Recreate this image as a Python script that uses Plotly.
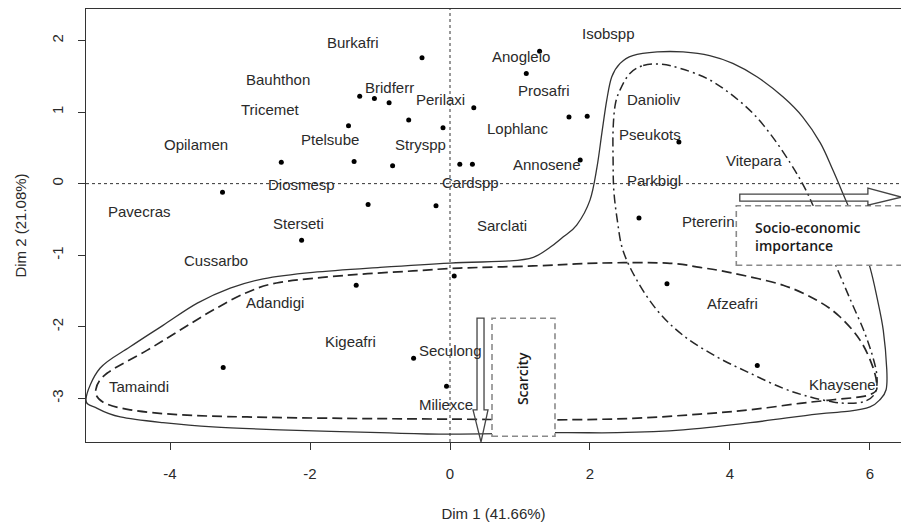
import plotly.graph_objects as go

# ---------------- data ----------------
point_dim1 = [-0.40, -1.29, -1.08, -0.87, -0.59, -1.45, -0.10, -2.41, -1.37, -0.82,
              -3.25, -1.17, -0.20, -2.12, 1.28, 1.09, 0.34, 1.70, 1.96, 3.27,
              0.14, 0.32, 1.86, 2.70, -1.34, -3.24, -0.52, -0.05, 0.06, 3.10, 4.39]
point_dim2 = [1.76, 1.22, 1.19, 1.13, 0.89, 0.81, 0.78, 0.30, 0.31, 0.25,
              -0.12, -0.29, -0.31, -0.79, 1.85, 1.54, 1.06, 0.93, 0.94, 0.58,
              0.27, 0.27, 0.33, -0.48, -1.42, -2.57, -2.44, -2.83, -1.29, -1.40, -2.54]

species = ["Burkafri", "Bauhthon", "Bridferr", "Perilaxi", "Tricemet", "Opilamen",
           "Ptelsube", "Stryspp", "Diosmesp", "Pavecras", "Sterseti", "Cussarbo",
           "Adandigi", "Kigeafri", "Tamaindi", "Miliexce", "Seculong", "Sarclati",
           "Cardspp", "Annosene", "Lophlanc", "Prosafri", "Anogleio", "Isobspp",
           "Danioliv", "Pseukots", "Parkbigl", "Vitepara", "Ptererin", "Afzeafri",
           "Khaysene"]
label_dim1 = [-1.39, -2.46, -0.87, -0.14, -2.57, -3.63, -1.71, -0.42, -2.12, -4.43,
              -2.17, -3.35, -2.50, -1.42, -4.44, -0.06, 0.01, 0.75, 0.29, 1.38,
              0.96, 1.34, 1.01, 2.27, 2.91, 2.86, 2.91, 4.34, 3.70, 4.04, 5.61]
label_dim2 = [1.97, 1.45, 1.34, 1.17, 1.03, 0.54, 0.61, 0.55, -0.01, -0.39,
              -0.56, -1.08, -1.66, -2.20, -2.84, -3.08, -2.33, -0.59, 0.02, 0.27,
              0.77, 1.30, 1.77, 2.10, 1.18, 0.68, 0.05, 0.33, -0.53, -1.67, -2.80]

x_ticks = [-4, -2, 0, 2, 4, 6]
x_tick_labels = ["-4", "-2", "0", "2", "4", "6"]
y_ticks = [-3, -2, -1, 0, 1, 2]
y_tick_labels = ["-3", "-2", "-1", "0", "1", "2"]
x_title = "Dim 1 (41.66%)"
y_title = "Dim 2 (21.08%)"

# hand-drawn group outlines (data coordinates)
solid_x = [-5.20, -5.00, -4.57, -4.10, -3.61, -3.14, -2.67, -1.96, -1.00, 0.00,
           0.86, 1.19, 1.43, 1.61, 1.81, 2.00, 2.10, 2.17, 2.24, 2.31,
           2.43, 2.61, 2.96, 3.33, 3.71, 4.04, 4.39, 4.76, 5.04, 5.29,
           5.47, 5.61, 5.83, 6.00, 6.10, 6.19, 6.24, 6.23, 6.14, 6.00,
           5.71, 5.24, 4.29, 3.33, 2.39, 1.53, 0.00, -1.00, -2.43, -3.39,
           -4.10, -4.71, -5.04]
solid_y = [-3.01, -2.58, -2.28, -1.98, -1.67, -1.46, -1.33, -1.24, -1.17, -1.11,
           -1.08, -1.03, -0.89, -0.75, -0.58, -0.23, 0.23, 0.71, 1.17, 1.49,
           1.68, 1.79, 1.84, 1.84, 1.79, 1.68, 1.49, 1.21, 0.93, 0.57,
           0.19, -0.13, -0.65, -1.17, -1.59, -2.05, -2.60, -2.88, -3.02, -3.12,
           -3.18, -3.22, -3.34, -3.44, -3.48, -3.48, -3.50, -3.48, -3.44, -3.40,
           -3.34, -3.26, -3.14]
dashed_x = [-5.06, -4.90, -4.33, -3.86, -3.39, -2.90, -2.43, -1.47, -0.53, 0.14,
            1.19, 2.14, 3.10, 3.57, 4.04, 4.76, 5.24, 5.57, 5.86, 6.04,
            6.10, 6.04, 5.86, 5.47, 5.00, 4.29, 3.57, 2.61, 1.47, -0.04,
            -1.47, -2.90, -3.86, -4.57, -4.96]
dashed_y = [-2.88, -2.65, -2.33, -2.05, -1.77, -1.52, -1.38, -1.28, -1.22, -1.18,
            -1.15, -1.11, -1.11, -1.17, -1.25, -1.42, -1.63, -1.86, -2.19, -2.56,
            -2.84, -2.93, -2.98, -3.02, -3.07, -3.16, -3.22, -3.28, -3.30, -3.29,
            -3.28, -3.26, -3.23, -3.16, -3.05]
dashdot_x = [2.76, 3.00, 3.29, 3.67, 4.00, 4.33, 4.61, 4.86, 5.03, 5.17,
             5.36, 5.50, 5.71, 5.91, 6.04, 6.10, 6.07, 5.93, 5.71, 5.47,
             5.14, 4.76, 4.29, 3.81, 3.33, 2.96, 2.67, 2.47, 2.39, 2.34,
             2.33, 2.33, 2.36, 2.43, 2.57]
dashdot_y = [1.65, 1.67, 1.61, 1.47, 1.26, 0.98, 0.65, 0.29, 0.01, -0.27,
             -0.72, -1.11, -1.60, -2.05, -2.42, -2.70, -2.93, -3.04, -3.07, -3.05,
             -2.98, -2.86, -2.65, -2.42, -2.12, -1.77, -1.35, -0.93, -0.51, -0.09,
             0.33, 0.75, 1.10, 1.31, 1.54]

# annotation boxes / arrows (data coordinates)
scarcity_box = dict(x0=0.60, x1=1.50, y0=-3.53, y1=-1.88)
scarcity_text_pos = (1.04, -2.72)
socio_box = dict(x0=4.09, x1=6.70, y0=-1.14, y1=-0.31)
socio_text_pos = (4.33, -0.735)
h_arrow_x = [4.14, 5.97, 5.97, 6.45, 5.97, 5.97, 4.14]
h_arrow_y = [-0.147, -0.147, -0.063, -0.189, -0.300, -0.244, -0.244]
v_arrow_x = [0.386, 0.386, 0.329, 0.443, 0.543, 0.486, 0.486]
v_arrow_y = [-1.88, -3.16, -3.16, -3.61, -3.16, -3.16, -1.88]

FONT = "Liberation Sans, Arial, sans-serif"
TXT = "#2a2a2a"


def smooth_closed_path(xs, ys):
    n = len(xs)
    p = list(zip(xs, ys))
    d = f"M {p[0][0]},{p[0][1]}"
    for i in range(n):
        p0, p1, p2, p3 = p[i - 1], p[i], p[(i + 1) % n], p[(i + 2) % n]
        c1 = (p1[0] + (p2[0] - p0[0]) / 6, p1[1] + (p2[1] - p0[1]) / 6)
        c2 = (p2[0] - (p3[0] - p1[0]) / 6, p2[1] - (p3[1] - p1[1]) / 6)
        d += f" C {c1[0]:.4f},{c1[1]:.4f} {c2[0]:.4f},{c2[1]:.4f} {p2[0]},{p2[1]}"
    return d + " Z"


def poly_path(xs, ys):
    return "M " + " L ".join(f"{x},{y}" for x, y in zip(xs, ys)) + " Z"


fig = go.Figure()
fig.add_trace(go.Scatter(x=point_dim1, y=point_dim2, mode="markers",
                         marker=dict(color="#000000", size=5), hoverinfo="skip",
                         showlegend=False))

shapes = []
# reference lines
shapes.append(dict(type="line", xref="x", yref="paper", x0=0, x1=0, y0=0, y1=1,
                   line=dict(color="#333333", width=1, dash="3px,3px"), layer="above"))
shapes.append(dict(type="line", xref="paper", yref="y", x0=0, x1=1, y0=0, y1=0,
                   line=dict(color="#333333", width=1, dash="3px,3px"), layer="above"))
# group outlines
shapes.append(dict(type="path", xref="x", yref="y", path=smooth_closed_path(solid_x, solid_y),
                   line=dict(color="#333333", width=1.3), layer="above"))
shapes.append(dict(type="path", xref="x", yref="y", path=smooth_closed_path(dashed_x, dashed_y),
                   line=dict(color="#262626", width=1.7, dash="10px,5px"), layer="above"))
shapes.append(dict(type="path", xref="x", yref="y", path=smooth_closed_path(dashdot_x, dashdot_y),
                   line=dict(color="#262626", width=1.5, dash="9px,4px,2px,4px"), layer="above"))
# boxes (white filled)
shapes.append(dict(type="rect", xref="x", yref="y", **scarcity_box, fillcolor="white",
                   line=dict(color="#8a8a8a", width=1.6, dash="6px,4px"), layer="above"))
shapes.append(dict(type="rect", xref="x", yref="y", **socio_box, fillcolor="white",
                   line=dict(color="#8a8a8a", width=1.6, dash="6px,4px"), layer="above"))
# hollow arrows
shapes.append(dict(type="path", xref="x", yref="y", path=poly_path(h_arrow_x, h_arrow_y),
                   line=dict(color="#444444", width=1.3), layer="above"))
shapes.append(dict(type="path", xref="x", yref="y", path=poly_path(v_arrow_x, v_arrow_y),
                   line=dict(color="#444444", width=1.3), layer="above"))

annotations = []
for name, lx, ly in zip(species, label_dim1, label_dim2):
    annotations.append(dict(x=lx, y=ly, xref="x", yref="y", text=name, showarrow=False,
                            font=dict(family=FONT, size=15, color=TXT),
                            xanchor="center", yanchor="middle"))
annotations.append(dict(x=scarcity_text_pos[0], y=scarcity_text_pos[1], xref="x", yref="y",
                        text="Scarcity", showarrow=False, textangle=-90,
                        font=dict(family="Open Sans, sans-serif", size=14, color="#1a1a1a",
                                  weight=600),
                        xanchor="center", yanchor="middle"))
annotations.append(dict(x=socio_text_pos[0], y=socio_text_pos[1], xref="x", yref="y",
                        text="Socio-economic<br>importance", showarrow=False, align="left",
                        font=dict(family="Open Sans, sans-serif", size=14, color="#1a1a1a",
                                  weight=600),
                        xanchor="left", yanchor="middle"))

fig.update_layout(
    width=901, height=526,
    margin=dict(l=86, r=0, t=9, b=84, autoexpand=False),
    paper_bgcolor="white", plot_bgcolor="white",
    shapes=shapes, annotations=annotations,
    font=dict(family=FONT, size=15, color=TXT),
    xaxis=dict(range=[-5.2, 6.443], tickvals=x_ticks, ticktext=x_tick_labels,
               ticks="outside", ticklen=7,
               tickcolor="#333333", tickwidth=1.2, showgrid=False, zeroline=False,
               showline=True, linecolor="#333333", linewidth=1.4, mirror=True,
               ticklabelstandoff=11, automargin=False,
               tickfont=dict(family=FONT, size=15, color=TXT),
               title=dict(text=x_title, standoff=27, font=dict(family=FONT, size=15, color=TXT))),
    yaxis=dict(range=[-3.61, 2.44], tickvals=y_ticks, ticktext=y_tick_labels,
               ticks="outside", ticklen=7,
               tickcolor="#333333", tickwidth=1.2, showgrid=False, zeroline=False,
               showline=True, linecolor="#333333", linewidth=1.4, mirror=False,
               tickangle=-90, ticklabelstandoff=9, automargin=False,
               tickfont=dict(family=FONT, size=15, color=TXT),
               title=dict(text=y_title, standoff=18, font=dict(family=FONT, size=15, color=TXT))),
)

fig.write_html("out.html", config={"displayModeBar": False},
               post_script="document.body.style.margin='0';document.body.style.padding='0';")
